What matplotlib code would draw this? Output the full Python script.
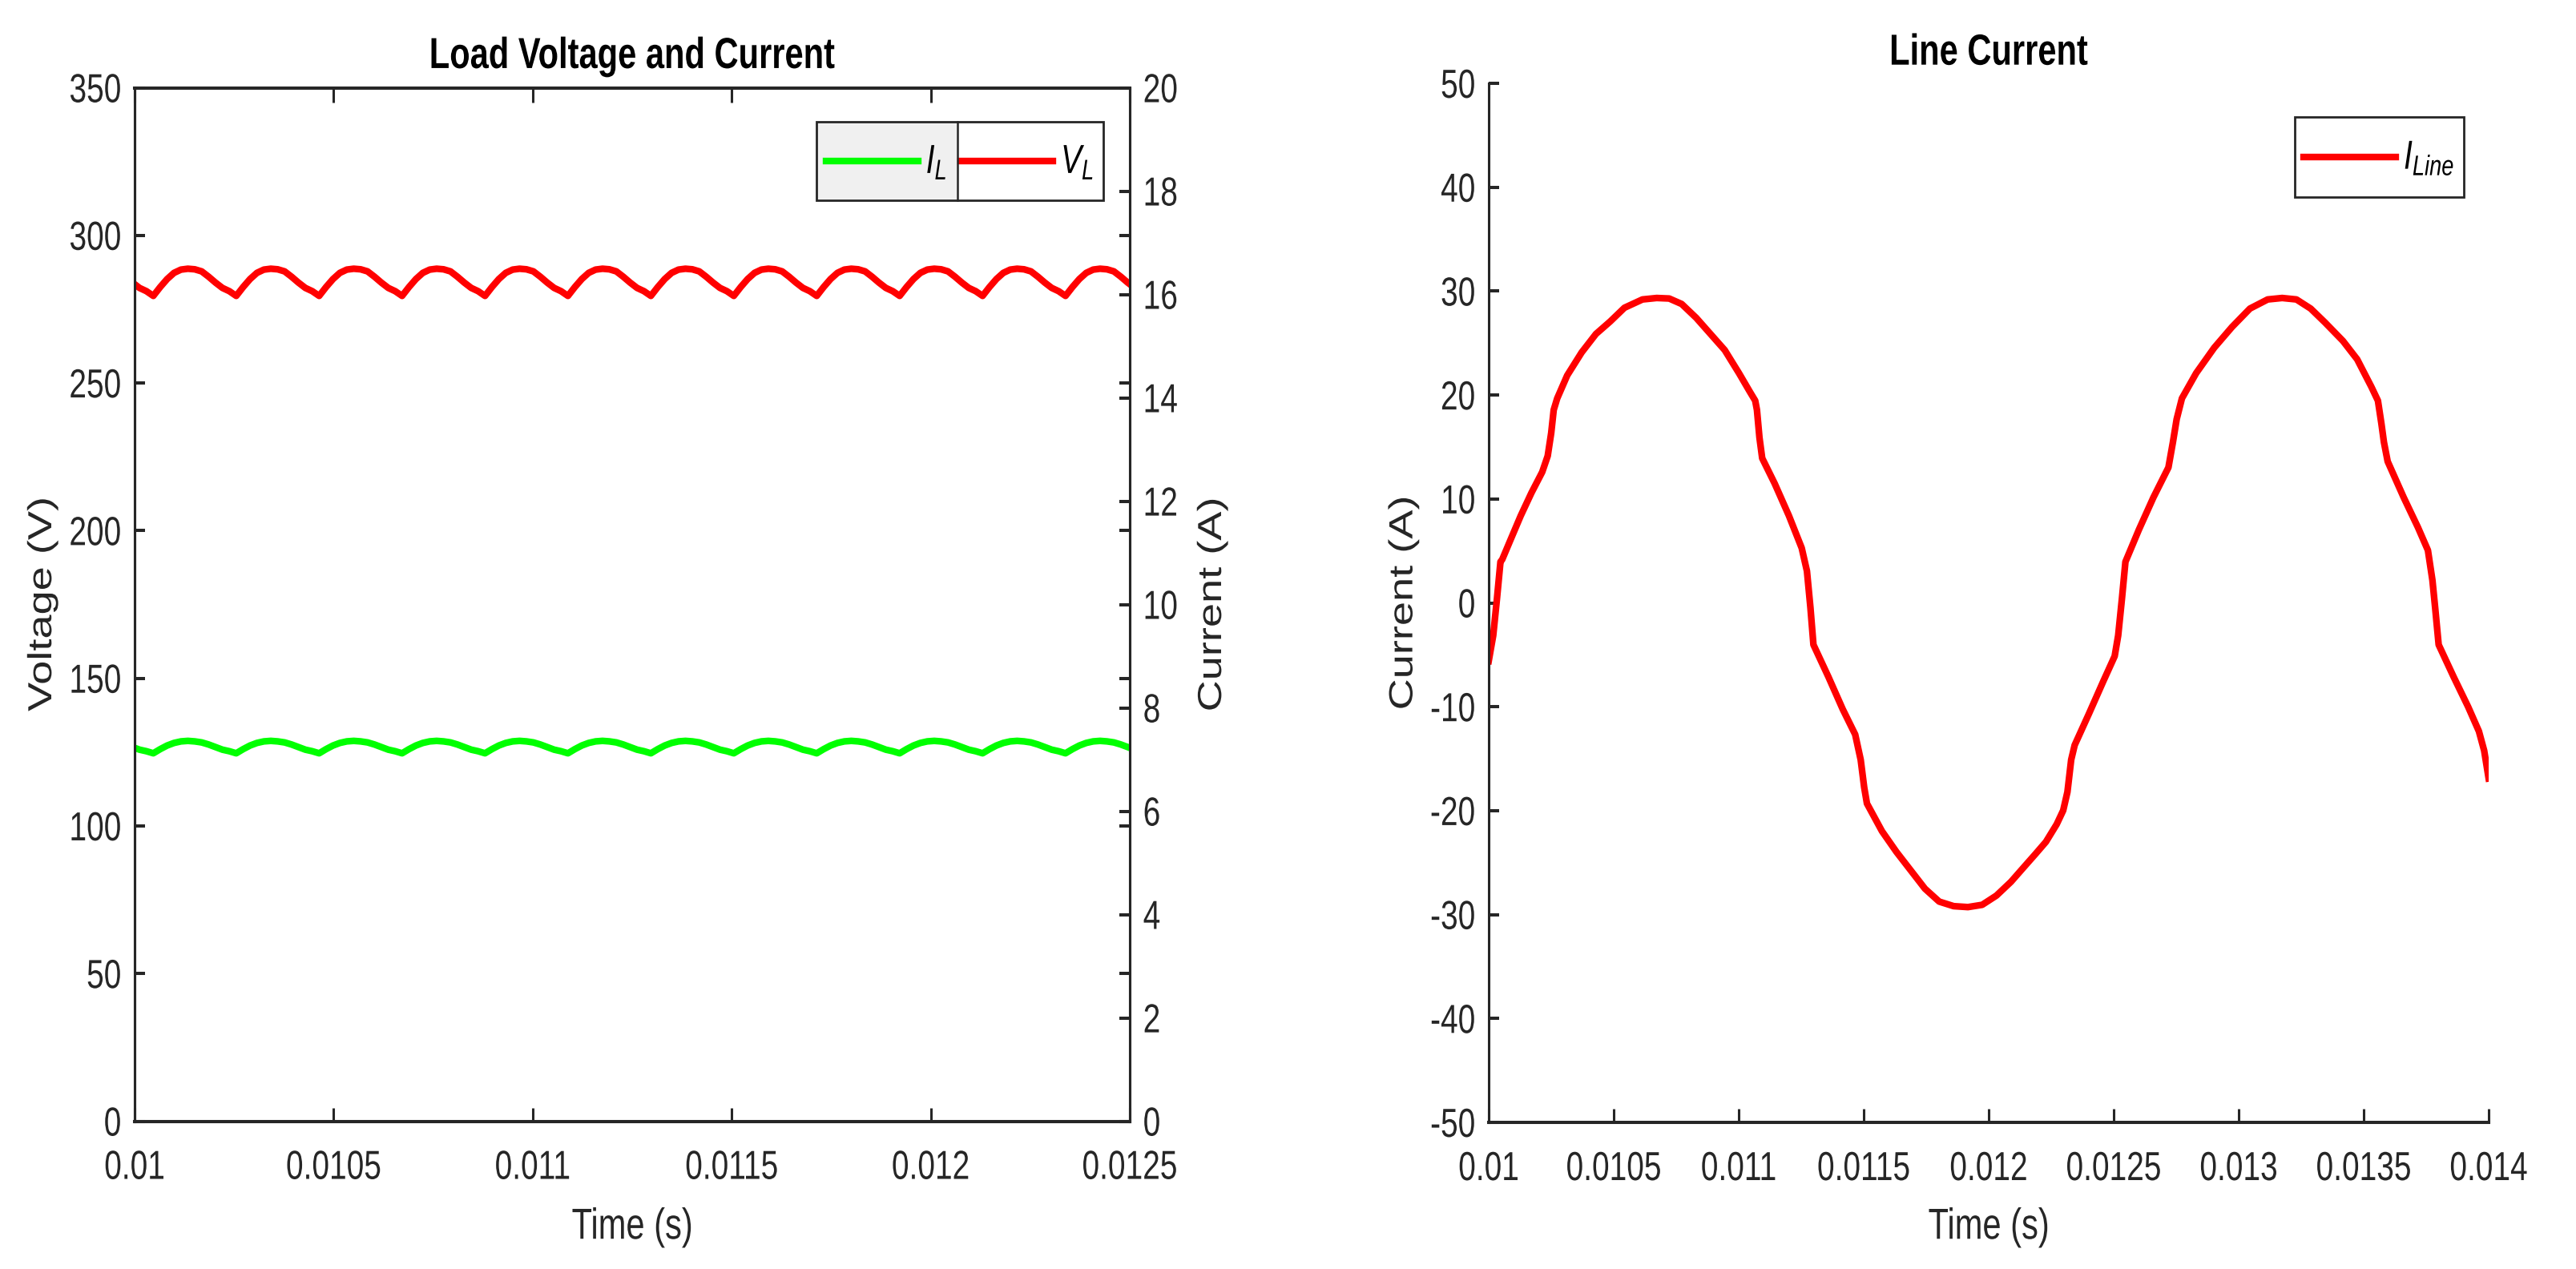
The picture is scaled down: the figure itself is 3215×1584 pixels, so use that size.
import numpy as np
import matplotlib
matplotlib.use("Agg")
import matplotlib.pyplot as plt
import matplotlib.text as mtext
from matplotlib.patheffects import AbstractPathEffect
from matplotlib.transforms import Affine2D, IdentityTransform
from matplotlib.patches import Rectangle
from matplotlib.lines import Line2D
from matplotlib.ticker import FixedLocator, FuncFormatter
from matplotlib.legend_handler import HandlerLine2D

# ---------------- data ----------------
# Load side (12-pulse ripple), uniformly sampled
load_t_start = 0.0099949      # s, time of first sample
load_t_step = 1.7361e-5       # s, sample spacing
v_load = [
    284.0, 282.2, 281.1,
    279.5, 282.5, 285.2, 287.3, 288.4, 288.7, 288.5, 287.8, 286.0, 284.0, 282.2, 281.1,
    279.5, 282.5, 285.2, 287.3, 288.4, 288.7, 288.5, 287.8, 286.0, 284.0, 282.2, 281.1,
    279.5, 282.5, 285.2, 287.3, 288.4, 288.7, 288.5, 287.8, 286.0, 284.0, 282.2, 281.1,
    279.5, 282.5, 285.2, 287.3, 288.4, 288.7, 288.5, 287.8, 286.0, 284.0, 282.2, 281.1,
    279.5, 282.5, 285.2, 287.3, 288.4, 288.7, 288.5, 287.8, 286.0, 284.0, 282.2, 281.1,
    279.5, 282.5, 285.2, 287.3, 288.4, 288.7, 288.5, 287.8, 286.0, 284.0, 282.2, 281.1,
    279.5, 282.5, 285.2, 287.3, 288.4, 288.7, 288.5, 287.8, 286.0, 284.0, 282.2, 281.1,
    279.5, 282.5, 285.2, 287.3, 288.4, 288.7, 288.5, 287.8, 286.0, 284.0, 282.2, 281.1,
    279.5, 282.5, 285.2, 287.3, 288.4, 288.7, 288.5, 287.8, 286.0, 284.0, 282.2, 281.1,
    279.5, 282.5, 285.2, 287.3, 288.4, 288.7, 288.5, 287.8, 286.0, 284.0, 282.2, 281.1,
    279.5, 282.5, 285.2, 287.3, 288.4, 288.7, 288.5, 287.8, 286.0, 284.0, 282.2, 281.1,
    279.5, 282.5, 285.2, 287.3, 288.4, 288.7, 288.5, 287.8, 286.0, 284.0, 282.2,
]
i_load = [
    7.24, 7.19, 7.16,
    7.12, 7.20, 7.27, 7.32, 7.35, 7.36, 7.35, 7.33, 7.29, 7.24, 7.19, 7.16,
    7.12, 7.20, 7.27, 7.32, 7.35, 7.36, 7.35, 7.33, 7.29, 7.24, 7.19, 7.16,
    7.12, 7.20, 7.27, 7.32, 7.35, 7.36, 7.35, 7.33, 7.29, 7.24, 7.19, 7.16,
    7.12, 7.20, 7.27, 7.32, 7.35, 7.36, 7.35, 7.33, 7.29, 7.24, 7.19, 7.16,
    7.12, 7.20, 7.27, 7.32, 7.35, 7.36, 7.35, 7.33, 7.29, 7.24, 7.19, 7.16,
    7.12, 7.20, 7.27, 7.32, 7.35, 7.36, 7.35, 7.33, 7.29, 7.24, 7.19, 7.16,
    7.12, 7.20, 7.27, 7.32, 7.35, 7.36, 7.35, 7.33, 7.29, 7.24, 7.19, 7.16,
    7.12, 7.20, 7.27, 7.32, 7.35, 7.36, 7.35, 7.33, 7.29, 7.24, 7.19, 7.16,
    7.12, 7.20, 7.27, 7.32, 7.35, 7.36, 7.35, 7.33, 7.29, 7.24, 7.19, 7.16,
    7.12, 7.20, 7.27, 7.32, 7.35, 7.36, 7.35, 7.33, 7.29, 7.24, 7.19, 7.16,
    7.12, 7.20, 7.27, 7.32, 7.35, 7.36, 7.35, 7.33, 7.29, 7.24, 7.19, 7.16,
    7.12, 7.20, 7.27, 7.32, 7.35, 7.36, 7.35, 7.33, 7.29, 7.24, 7.19,
]

# Line current
t_line = [
    0.010000, 0.010018, 0.010033, 0.010047, 0.010054, 0.010085, 0.010128, 0.010171, 0.010214,
    0.010236, 0.010250, 0.010260, 0.010274,
    0.010314, 0.010372, 0.010429, 0.010486, 0.010543, 0.010615, 0.010672, 0.010722,
    0.010772, 0.010830, 0.010887, 0.010944, 0.011001, 0.011044, 0.011066,
    0.011073, 0.011083, 0.011094,
    0.011144, 0.011201, 0.011252,
    0.011273, 0.011287, 0.011299,
    0.011359, 0.011416, 0.011466,
    0.011488, 0.011502, 0.011513,
    0.011573, 0.011631, 0.011688, 0.011745, 0.011802, 0.011860, 0.011917, 0.011974,
    0.012031, 0.012089, 0.012146, 0.012186, 0.012229, 0.012272, 0.012298,
    0.012315, 0.012330, 0.012344,
    0.012401, 0.012458, 0.012504,
    0.012518, 0.012533, 0.012547,
    0.012601, 0.012659, 0.012719,
    0.012737, 0.012752, 0.012773,
    0.012830, 0.012902, 0.012973, 0.013045, 0.013116, 0.013174, 0.013231, 0.013288,
    0.013345, 0.013417, 0.013474, 0.013531, 0.013557,
    0.013571, 0.013581, 0.013596,
    0.013660, 0.013717, 0.013757,
    0.013775, 0.013786, 0.013800,
    0.013860, 0.013918, 0.013961,
    0.013982, 0.014000,
]
i_line = [
    -5.6, -3.14, 0.4, 3.95, 4.17, 5.94, 8.38, 10.59, 12.59,
    14.14, 16.35, 18.57, 19.68,
    21.89, 24.11, 25.88, 27.08, 28.4, 29.2, 29.34, 29.29,
    28.76, 27.43, 25.88, 24.33, 22.11, 20.34, 19.46,
    18.57, 15.91, 13.92,
    11.48, 8.38, 5.28,
    3.06, -0.48, -4.03,
    -7.13, -10.23, -12.67,
    -15.1, -17.76, -19.31,
    -21.97, -23.97, -25.74, -27.51, -28.75, -29.19, -29.28, -29.06,
    -28.17, -26.85, -25.29, -24.2, -23.0, -21.31, -19.98,
    -18.2, -15.1, -13.69,
    -10.67, -7.57, -5.13,
    -3.14, 0.4, 3.95,
    7.05, 10.15, 13.03,
    15.47, 17.68, 19.68,
    22.11, 24.55, 26.54, 28.32, 29.2, 29.34, 29.2, 28.32,
    26.99, 25.21, 23.44, 20.78, 19.46,
    17.24, 15.47, 13.61,
    10.15, 7.27, 5.06,
    2.18, -0.48, -4.03,
    -7.13, -10.01, -12.36,
    -14.22, -16.9,
]

left_xticks = [0.01, 0.0105, 0.011, 0.0115, 0.012, 0.0125]
left_vticks = [0, 50, 100, 150, 200, 250, 300, 350]
left_iticks = [0, 2, 4, 6, 8, 10, 12, 14, 16, 18, 20]
right_xticks = [0.01, 0.0105, 0.011, 0.0115, 0.012, 0.0125, 0.013, 0.0135, 0.014]
right_yticks = [-50, -40, -30, -20, -10, 0, 10, 20, 30, 40, 50]

# ---------------- style ----------------
plt.rcParams['font.family'] = ['Liberation Sans', 'DejaVu Sans']
plt.rcParams['mathtext.fontset'] = 'custom'
plt.rcParams['mathtext.rm'] = 'Liberation Sans'
plt.rcParams['mathtext.it'] = 'Liberation Sans:italic'
plt.rcParams['mathtext.bf'] = 'Liberation Sans:bold'

AX = '#262626'
TICK_FS = 14
LABEL_FS = 15
TITLE_FS = 15
LEG_FS = 14
LW = 3.0
STRETCH = 1.3


class VStretch(AbstractPathEffect):
    """Stretch rendered glyphs vertically about their ink centre."""
    def __init__(self, sy):
        super().__init__()
        self._sy = sy

    def draw_path(self, renderer, gc, tpath, affine, rgbFace=None):
        try:
            ext = tpath.get_extents(affine)
            cy = 0.5 * (ext.y0 + ext.y1)
            if not np.isfinite(cy):
                raise ValueError
            tr = affine + Affine2D().translate(0, -cy).scale(1, self._sy).translate(0, cy)
        except Exception:
            tr = affine
        renderer.draw_path(gc, tpath, tr, rgbFace)


class CenteredLineHandler(HandlerLine2D):
    """Legend line drawn at the vertical centre of its handle box."""
    def create_artists(self, legend, orig_handle, xdescent, ydescent,
                       width, height, fontsize, trans):
        arts = super().create_artists(legend, orig_handle, xdescent, ydescent,
                                      width, height, fontsize, trans)
        yc = height / 2.0 - ydescent
        for a in arts:
            if isinstance(a, Line2D):
                a.set_ydata(np.full_like(np.asarray(a.get_xdata(), float), yc))
        return arts


fig = plt.figure(figsize=(16.08, 7.92), dpi=200)
W, H = 3216.0, 1584.0

ax1 = fig.add_axes([168 / W, (H - 1399.5) / H, 1242 / W, 1290 / H])
ax3 = fig.add_axes([1858 / W, (H - 1401) / H, 1248 / W, 1297 / H])

fmt = FuncFormatter(lambda v, p: f"{v:g}")

# ---- left: load voltage and current ----
t_load = load_t_start + load_t_step * np.arange(len(v_load))
(h_vl,) = ax1.plot(t_load, v_load, color='#ff0000', lw=LW, solid_joinstyle='round')
ax2 = ax1.twinx()
(h_il,) = ax2.plot(t_load, i_load, color='#00ff00', lw=LW, solid_joinstyle='round')

ax1.set_xlim(0.01, 0.0125)
ax1.set_ylim(0, 350)
ax2.set_ylim(0, 20)
ax1.xaxis.set_major_locator(FixedLocator(left_xticks))
ax1.xaxis.set_major_formatter(fmt)
ax1.yaxis.set_major_locator(FixedLocator(left_vticks))
ax1.yaxis.set_major_formatter(fmt)
ax2.yaxis.set_major_locator(FixedLocator(left_iticks))
ax2.yaxis.set_major_formatter(fmt)

ax1.tick_params(axis='x', direction='in', length=6.3, width=1.1, pad=14.4,
                top=True, bottom=True, labelsize=TICK_FS, colors=AX)
ax1.tick_params(axis='y', direction='in', length=4.7, width=1.45, pad=6,
                left=True, right=True, labelleft=True, labelright=False,
                labelsize=TICK_FS, colors=AX)
ax2.tick_params(axis='y', direction='in', length=4.7, width=1.45, pad=6,
                left=False, right=True, labelsize=TICK_FS, colors=AX)
for ax in (ax1, ax2):
    for s in ('top', 'bottom'):
        ax.spines[s].set_linewidth(1.45)
        ax.spines[s].set_color(AX)
    for s in ('left', 'right'):
        ax.spines[s].set_linewidth(1.1)
        ax.spines[s].set_color(AX)

ax1.set_title('Load Voltage and Current', fontsize=TITLE_FS, fontweight='bold',
              color='black', pad=10)
ax1.set_xlabel('Time (s)', fontsize=LABEL_FS, color=AX)
ax1.xaxis.set_label_coords(0.5, -0.0872)
ax1.set_ylabel('Voltage (V)', fontsize=LABEL_FS, color=AX)
ax1.yaxis.set_label_coords(-0.0765, 0.5)
ax2.set_ylabel('Current (A)', fontsize=LABEL_FS, color=AX)
ax2.yaxis.set_label_coords(1.0668, 0.5)

hmap = {Line2D: CenteredLineHandler()}
leg1 = ax2.legend([h_il, h_vl], ['$I_L$', '$V_L$'], ncols=2, loc='upper right',
                  bbox_to_anchor=(0.9734, 0.9671), borderaxespad=0,
                  fontsize=LEG_FS, handlelength=2.96, handletextpad=0.25,
                  columnspacing=0.45, borderpad=0.3, handleheight=2.59,
                  fancybox=False, frameon=True, framealpha=1, handler_map=hmap)
leg1.get_frame().set_edgecolor(AX)
leg1.get_frame().set_linewidth(1.0)
leg1.get_frame().set_facecolor('none')

# ---- right: line current ----
(h_line,) = ax3.plot(t_line, i_line, color='#ff0000', lw=LW, solid_joinstyle='round')
ax3.set_xlim(0.01, 0.014)
ax3.set_ylim(-50, 50)
ax3.xaxis.set_major_locator(FixedLocator(right_xticks))
ax3.xaxis.set_major_formatter(fmt)
ax3.yaxis.set_major_locator(FixedLocator(right_yticks))
ax3.yaxis.set_major_formatter(fmt)
ax3.tick_params(axis='x', direction='in', length=6.3, width=1.1, pad=14.4,
                labelsize=TICK_FS, colors=AX)
ax3.tick_params(axis='y', direction='in', length=4.7, width=1.45, pad=6,
                labelsize=TICK_FS, colors=AX)
ax3.spines['top'].set_visible(False)
ax3.spines['right'].set_visible(False)
ax3.spines['bottom'].set_linewidth(1.45)
ax3.spines['bottom'].set_color(AX)
ax3.spines['left'].set_linewidth(1.1)
ax3.spines['left'].set_color(AX)
ax3.set_title('Line Current', fontsize=TITLE_FS, fontweight='bold', color='black', pad=10)
ax3.set_xlabel('Time (s)', fontsize=LABEL_FS, color=AX)
ax3.xaxis.set_label_coords(0.5, -0.0856)
ax3.set_ylabel('Current (A)', fontsize=LABEL_FS, color=AX)
ax3.yaxis.set_label_coords(-0.0692, 0.5)

leg3 = ax3.legend([h_line], ['$I_{Line}$'], loc='upper right',
                  bbox_to_anchor=(0.9752, 0.9676), borderaxespad=0,
                  fontsize=LEG_FS, handlelength=2.96, handletextpad=0.25,
                  borderpad=0.3, handleheight=2.65,
                  fancybox=False, frameon=True, framealpha=1, handler_map=hmap)
leg3.get_frame().set_edgecolor(AX)
leg3.get_frame().set_linewidth(1.0)

# ---- finishing: vertically stretched text and legend cell shading ----
fig.canvas.draw()
renderer = fig.canvas.get_renderer()
for t in fig.findobj(mtext.Text):
    t.set_path_effects([VStretch(STRETCH)])

bb = leg1.get_frame().get_window_extent(renderer)
split = bb.x0 + 0.49 * bb.width
cell = Rectangle((bb.x0, bb.y0), split - bb.x0, bb.height,
                 facecolor='#f0f0f0', edgecolor='none', zorder=4.5)
ax2.add_artist(cell)
cell.set_transform(IdentityTransform())
div = Line2D([split, split], [bb.y0, bb.y1], color=AX, lw=0.9, zorder=6)
ax2.add_artist(div)
div.set_transform(IdentityTransform())

fig.savefig('out.png', dpi=200, facecolor='white')
